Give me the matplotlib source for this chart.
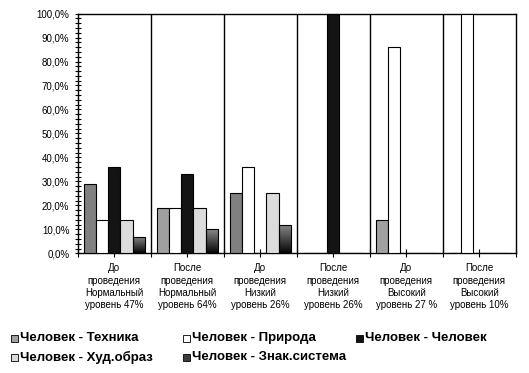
import numpy as np
import matplotlib
matplotlib.use('Agg')
import matplotlib.pyplot as plt
from matplotlib.patches import Rectangle
from matplotlib.ticker import MultipleLocator, FuncFormatter

plt.rcParams['font.family'] = ['Liberation Sans', 'DejaVu Sans']

# data
groups = ['До\nпроведения\nНормальный\nуровень 47%',
          'После\nпроведения\nНормальный\nуровень 64%',
          'До\nпроведения\nНизкий\nуровень 26%',
          'После\nпроведения\nНизкий\nуровень 26%',
          'До\nпроведения\nВысокий\nуровень 27 %',
          'После\nпроведения\nВысокий\nуровень 10%']
series = ['Человек - Техника', 'Человек - Природа', 'Человек - Человек',
          'Человек - Худ.образ', 'Человек - Знак.система']
tehnika = [29, 19, 25, 0, 14, 0]
priroda = [14, 19, 36, 0, 86, 100]
chelovek = [36, 33, 0, 100, 0, 0]
hudobraz = [14, 19, 25, 0, 0, 0]
znak = [7, 10, 12, 0, 0, 0]
values = [tehnika, priroda, chelovek, hudobraz, znak]

colors = ['#a0a0a0', '#ffffff', '#141414', '#dcdcdc', 'gradient']
tehnika_colors = ['#808080', '#a0a0a0', '#808080', '#a0a0a0', '#a0a0a0', '#a0a0a0']

fig = plt.figure(figsize=(5.29, 3.73), dpi=100)
ax = fig.add_axes([0.147, 0.3204, 0.828, 0.6434])

x = np.arange(len(groups))
w = 1 / 6
grad = np.linspace(0, 1, 64).reshape(-1, 1)

for i, (name, vals) in enumerate(zip(series, values)):
    pos = x + (i - 2) * w
    if colors[i] == 'gradient':
        bars = ax.bar(pos, vals, w, facecolor='none', edgecolor='black',
                      linewidth=0.8, zorder=3)
        for b in bars:
            if b.get_height() <= 0:
                continue
            im = ax.imshow(grad, cmap='gray', vmin=-0.05, vmax=1.9,
                           extent=[b.get_x(), b.get_x() + b.get_width(), 0, b.get_height()],
                           origin='lower', aspect='auto', zorder=2)
            im.set_clip_path(b)
    else:
        fc = tehnika_colors if i == 0 else colors[i]
        ax.bar(pos, vals, w, color=fc, edgecolor='black', linewidth=0.8, zorder=3)

# separators between groups
for b in x[:-1] + 0.5:
    ax.axvline(b, color='black', linewidth=1, zorder=1)

ax.set_xlim(-0.5, len(groups) - 0.5)
ax.set_ylim(0, 100)
ax.yaxis.set_major_locator(MultipleLocator(10))
ax.yaxis.set_minor_locator(MultipleLocator(2))
ax.yaxis.set_major_formatter(FuncFormatter(lambda v, p: f'{v:.1f}%'.replace('.', ',')))
ax.tick_params(axis='y', which='both', direction='inout', length=5, width=0.8,
               labelsize=7, pad=3.5)
ax.tick_params(axis='y', which='minor', length=4)

ax.set_xticks(x)
ax.set_xticklabels(groups, fontsize=7, linespacing=1.3)
ax.set_xticks(np.arange(len(groups) + 1) - 0.5, minor=True)
ax.tick_params(axis='x', which='both', direction='inout', length=6, width=0.8, pad=4)
for s in ax.spines.values():
    s.set_linewidth(1)

# legend, 3 columns x 2 rows
col_x = [11, 182.5, 356]
row_y = [338, 357.5]
W, H = 529, 373
leg_colors = ['#a0a0a0', '#ffffff', '#141414', '#dcdcdc', '#3c3c3c']
for k, name in enumerate(series):
    cx = col_x[k % 3]
    cy = row_y[k // 3]
    fig.add_artist(Rectangle((cx / W, 1 - (cy + 3.5) / H), 7 / W, 7 / H,
                             facecolor=leg_colors[k], edgecolor='black',
                             linewidth=0.6, transform=fig.transFigure))
    fig.text((cx + 9) / W, 1 - cy / H, name, fontsize=9.5, fontweight='bold',
             va='center', ha='left')

fig.savefig('out.png', dpi=100)
